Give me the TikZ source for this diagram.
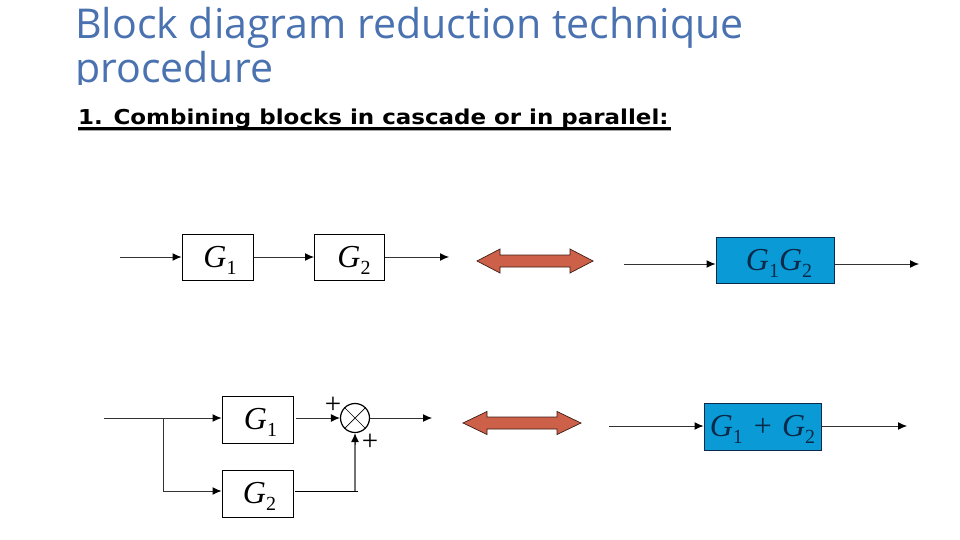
\documentclass[tikz,border=0pt]{standalone}
\usepackage{fontspec}
\usepackage{graphicx}
\setmainfont{Liberation Serif}
\newfontfamily\titlefont{Open Sans}
\newfontfamily\headfont{DejaVu Sans}
\usetikzlibrary{arrows.meta,calc}
\definecolor{titleblue}{HTML}{4A72B0}
\definecolor{blockblue}{HTML}{0A9BD6}
\definecolor{arrowred}{HTML}{CC6048}
\definecolor{inkblue}{HTML}{0B2A4A}
\tikzset{
  x=1pt,y=-1pt,
  blockbox/.style={draw=black,line width=1pt,inner sep=0pt,font=\fontsize{32}{32}\selectfont},
  bluebox/.style={blockbox,fill=blockblue,draw=inkblue,text=inkblue},
  sig/.style={draw=black!80,line width=1pt,-{Latex[length=9pt,width=8pt,color=black]}},
  wire/.style={draw=black,line width=1pt},
  feed/.style={draw=black!55,line width=2.4pt},
  bigarrow/.style={draw=black!70!arrowred,fill=arrowred,line width=0.7pt,line join=miter},
  titletext/.style={anchor=base west,inner sep=0pt,text=titleblue,font=\titlefont\fontsize{41.1}{41.1}\selectfont},
  plus/.style={inner sep=0pt,font=\fontsize{29}{29}\selectfont}
}
\newcommand{\Gs}[1]{\textit{G}\raisebox{-7pt}[0pt][0pt]{\fontsize{20}{20}\selectfont #1}}
\begin{document}
\begin{tikzpicture}
\useasboundingbox (0,0) rectangle (960,540);
\begin{scope}
\clip (0,0) rectangle (960,85);
\node[titletext] (t1) at (75,39) {Block diagram reduction technique};
\node[titletext] (t2) at (75,83) {procedure};
\end{scope}
\draw[black!35,line width=1.5pt] (78,130.5) -- (671,130.5);
\node[anchor=base west,inner sep=0pt,font=\headfont\bfseries\fontsize{20.5}{21}\selectfont] (hd) at (78,125) {\scalebox{1.12}[1]{1. Combining blocks in cascade or in parallel:}};
\draw[line width=2.2pt] (78,128.5) coordinate (ul1) -- (671,128.5) coordinate (ul2);
% top left
\node[blockbox,minimum width=71pt,minimum height=46pt] (a1) at (217.5,257) {\hspace*{5pt}\Gs{1}};
\node[blockbox,minimum width=70pt,minimum height=46pt] (a2) at (349.5,257) {\hspace*{9pt}\Gs{2}};
\coordinate (ain) at (120,257);
\coordinate (aout) at (449,257);
\draw[sig] (ain) -- (a1);
\draw[sig] (a1) -- (a2);
\draw[sig] (a2) -- (aout);
\draw[bigarrow,shift={(535,261)}] (-58,0) -- (-35,-12) -- (-35,-6) -- (35,-6) -- (35,-12) -- (58,0) -- (35,12) -- (35,6) -- (-35,6) -- (-35,12) -- cycle;
% top right
\node[bluebox,minimum width=118pt,minimum height=46pt] (b) at (775,260) {\hspace*{8pt}\Gs{1}\Gs{2}};
\coordinate (bin) at (624,264);
\coordinate (bout) at (919,264);
\draw[sig] (bin) -- (bin -| b.west);
\draw[sig] (bout -| b.east) -- (bout);
% bottom left
\node[blockbox,minimum width=71pt,minimum height=47pt] (c1) at (257.5,419.5) {\hspace*{6pt}\Gs{1}};
\node[blockbox,minimum width=71pt,minimum height=47pt] (c2) at (257.5,493.5) {\hspace*{4pt}\Gs{2}};
\node[circle,draw=black,line width=1.2pt,minimum size=29pt,inner sep=0pt] (s) at (355,418) {};
\draw[line width=0.7pt] (s.45) -- (s.225) (s.135) -- (s.315);
\coordinate (cin) at (104,418);
\coordinate (cj) at (163,418);
\coordinate (cb) at (163,491);
\coordinate (cout) at (432,418);
\coordinate (c2r) at (295,491);
\coordinate (cr) at (358,491);
\coordinate (cc) at (s.south |- cr);
\draw[sig] (cin) -- (c1.west |- cin);
\draw[sig] (cj) -- (cb) -- (c2.west |- cb);
\draw[sig] ($(c1.east |- s)+(2,0)$) -- (s.west);
\draw[sig] (s.east) -- (cout);
\draw[wire] (c2r) -- (cr);
\draw[feed] (cc) -- ($(s.south)+(0,6)$);
\draw[sig] ($(s.south)+(0,12)$) -- (s.south);
\node[plus] (p1) at (333,405) {+};
\node[plus] (p2) at (370,442) {+};
% bottom middle
\draw[bigarrow,shift={(522,423)}] (-59,0) -- (-35,-11.5) -- (-35,-6) -- (35,-6) -- (35,-11.5) -- (59,0) -- (35,11.5) -- (35,6) -- (-35,6) -- (-35,11.5) -- cycle;
% bottom right
\node[bluebox,minimum width=117pt,minimum height=47pt] (e) at (762.5,426.5) {\Gs{1}\hspace{11pt}+\hspace{10pt}\Gs{2}};
\coordinate (ein) at (609,426);
\coordinate (eout) at (907,426);
\draw[sig] (ein) -- (ein -| e.west);
\draw[sig] (eout -| e.east) -- (eout);
\end{tikzpicture}
\end{document}
